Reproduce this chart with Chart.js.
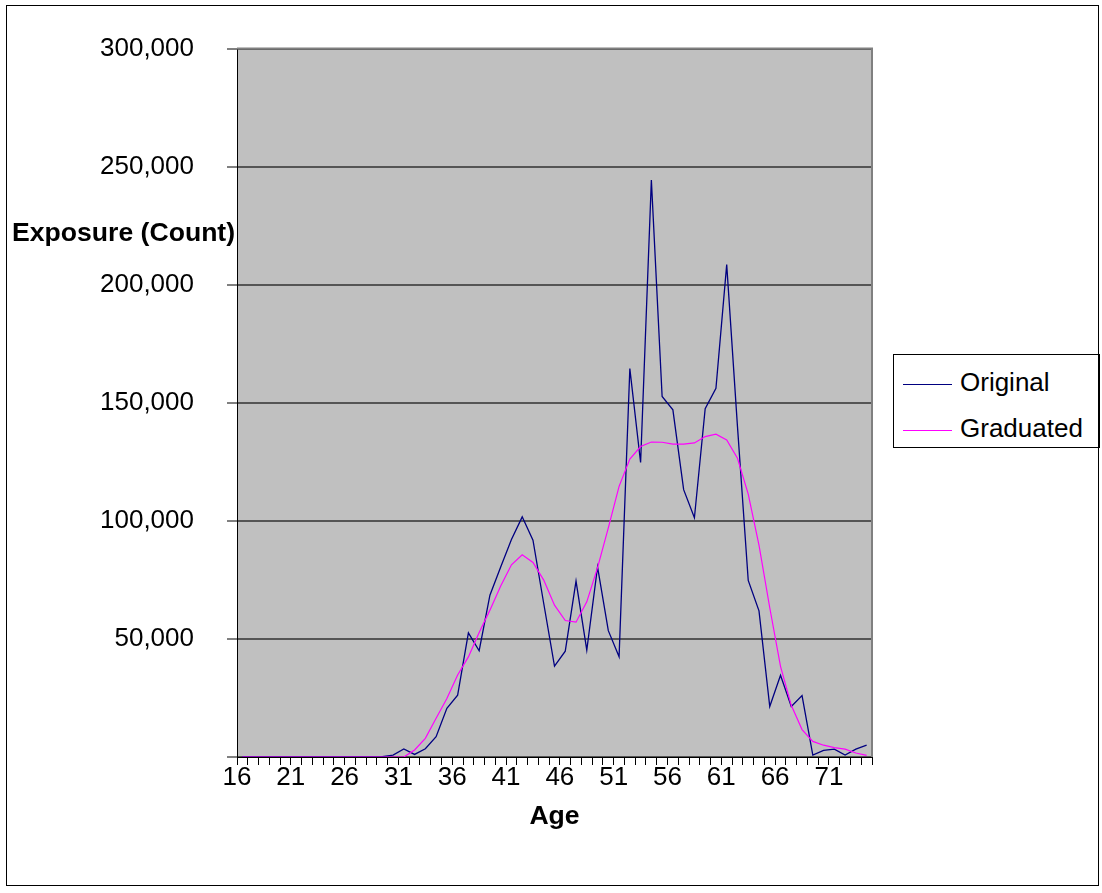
<!DOCTYPE html>
<html>
<head>
<meta charset="utf-8">
<title>Exposure by Age</title>
<script src="https://cdn.jsdelivr.net/npm/chart.js@4.4.1/dist/chart.umd.min.js"></script>
<style>
  body { margin: 0; background: #fff; overflow: hidden; font-family: "Liberation Sans", Arial, sans-serif; }
  #wrap { position: relative; width: 1102px; height: 893px; }
  #frame { position: absolute; left: 6px; top: 5px; width: 1093px; height: 881px; border: 1px solid #000; box-sizing: border-box; pointer-events: none; }
  #ytitle { position: absolute; left: 12px; top: 216px; font-weight: bold; font-size: 26.6px; line-height: 32px; color: #000; white-space: nowrap; }
  #legend { position: absolute; left: 893px; top: 354px; width: 207px; height: 94px; border: 1px solid #000; box-sizing: border-box; background: #fff; }
  .item { position: absolute; left: 9px; height: 30px; font-size: 26px; line-height: 30px; color: #000; white-space: nowrap; }
  .item span.sw { display: inline-block; width: 49px; height: 0; border-top: 1px solid; vertical-align: middle; margin-right: 8px; }
</style>
</head>
<body>
<div id="wrap">
  <canvas id="myChart" width="1102" height="893"></canvas>
  <div id="ytitle">Exposure (Count)</div>
  <div id="legend"></div>
  <div id="frame"></div>
</div>
<script>
// ages 16..74
const ages = [];
for (let a = 16; a <= 74; a++) ages.push(String(a));

// exposure
const original = [
  0, 0, 0, 0, 0, 0, 0, 0, 0, 0, 0, 0, 0,          // 16-28
  200, 800, 3400, 1100, 3500, 8600, 20600, 26200,  // 29-36
  52600, 45000, 68500, 80500, 92100, 101700, 91800, 65000, // 37-44
  38500, 44800, 74500, 45300, 80500, 53500, 42500, // 45-51
  164500, 124700, 244300, 152700, 147000, 113200, 101300, // 52-58
  147500, 156100, 208500, 140000, 74800, 61900,    // 59-64
  21400, 34600, 21400, 26000, 800, 2800, 3300, 800, 3300, 5000 // 65-74
];
const graduated = [
  0, 0, 0, 0, 0, 0, 0, 0, 0, 0, 0, 0, 0, 0, 0, 0, // 16-31
  3000, 7900, 16400, 24800, 34700, 42400, 52700,   // 32-38
  62200, 72400, 81400, 85600, 82400, 74900, 64300, // 39-45
  57800, 57100, 65700, 80200, 97000, 114600,       // 46-51
  126200, 131500, 133400, 133300, 132500, 132500, 133000, // 52-58
  135700, 136700, 134300, 126500, 111300, 89700,   // 59-64
  63200, 38400, 21900, 11600, 6600, 5000, 4000, 3300, 1700, 700 // 65-74
];
const seriesNames = ['Original', 'Graduated'];
const seriesColors = ['#000080', '#FF00FF'];
const yMax = 300000;
const yStep = 50000;
const labelEvery = 5;

const FONT = '"Liberation Sans", Arial, sans-serif';

// grey plot area + grey outline on top/right
const plotBg = {
  id: 'plotBg',
  beforeDraw(chart) {
    const {ctx, chartArea: a} = chart;
    ctx.save();
    ctx.fillStyle = '#C0C0C0';
    ctx.fillRect(a.left, a.top, a.right - a.left, a.bottom - a.top);
    ctx.restore();
  },
  beforeDatasetsDraw(chart) {
    const {ctx, chartArea: a} = chart;
    ctx.save();
    ctx.strokeStyle = '#808080';
    ctx.lineWidth = 2;
    ctx.beginPath();
    ctx.moveTo(a.left, a.top);
    ctx.lineTo(a.right, a.top);
    ctx.lineTo(a.right, a.bottom);
    ctx.stroke();
    ctx.restore();
  }
};

const ctx = document.getElementById('myChart').getContext('2d');
const myChart = new Chart(ctx, {
  type: 'line',
  data: {
    labels: ages,
    datasets: [{
      label: seriesNames[0],
      data: original,
      borderColor: seriesColors[0],
      borderWidth: 1.3,
      pointRadius: 0,
      tension: 0,
      order: 2
    }, {
      label: seriesNames[1],
      data: graduated,
      borderColor: seriesColors[1],
      borderWidth: 1.2,
      pointRadius: 0,
      tension: 0,
      order: 1
    }]
  },
  options: {
    responsive: false,
    animation: false,
    layout: { padding: { left: 0, top: 48, right: 230, bottom: 63 } },
    plugins: {
      legend: { display: false },
      tooltip: { enabled: false }
    },
    scales: {
      x: {
        offset: true,
        grid: { display: true, drawOnChartArea: false, drawTicks: true, tickLength: 8, offset: true, color: '#000', tickColor: '#000' },
        border: { display: true, color: '#000', width: 1 },
        ticks: {
          autoSkip: false,
          maxRotation: 0,
          padding: 0,
          labelOffset: -5.4,
          color: '#000',
          font: { family: FONT, size: 26, lineHeight: 1 },
          callback: function(val, i) { return i % labelEvery === 0 ? this.getLabelForValue(val) : ''; }
        },
        title: {
          display: true,
          text: 'Age',
          color: '#000',
          padding: 0,
          font: { family: FONT, size: 26.6, weight: 'bold', lineHeight: 1 }
        },
        afterFit(scale) { scale.height = 73; }
      },
      y: {
        min: 0,
        max: yMax,
        grid: { color: '#555', lineWidth: 2, tickLength: 10, tickColor: '#000', tickWidth: 1 },
        border: { display: true, color: '#000', width: 1 },
        ticks: {
          stepSize: yStep,
          padding: 33,
          color: '#000',
          font: { family: FONT, size: 26 },
          callback: v => (v === 0 ? '' : v.toLocaleString('en-US'))
        },
        afterFit(scale) { scale.width = 237; }
      }
    }
  },
  plugins: [plotBg]
});

// legend built from the chart's datasets
const legend = document.getElementById('legend');
myChart.data.datasets.forEach((ds, i) => {
  const div = document.createElement('div');
  div.className = 'item';
  div.style.top = (12 + i * 46) + 'px';
  div.innerHTML = '<span class="sw" style="border-color:' + ds.borderColor + '"></span>' + ds.label;
  legend.appendChild(div);
});
</script>
</body>
</html>
